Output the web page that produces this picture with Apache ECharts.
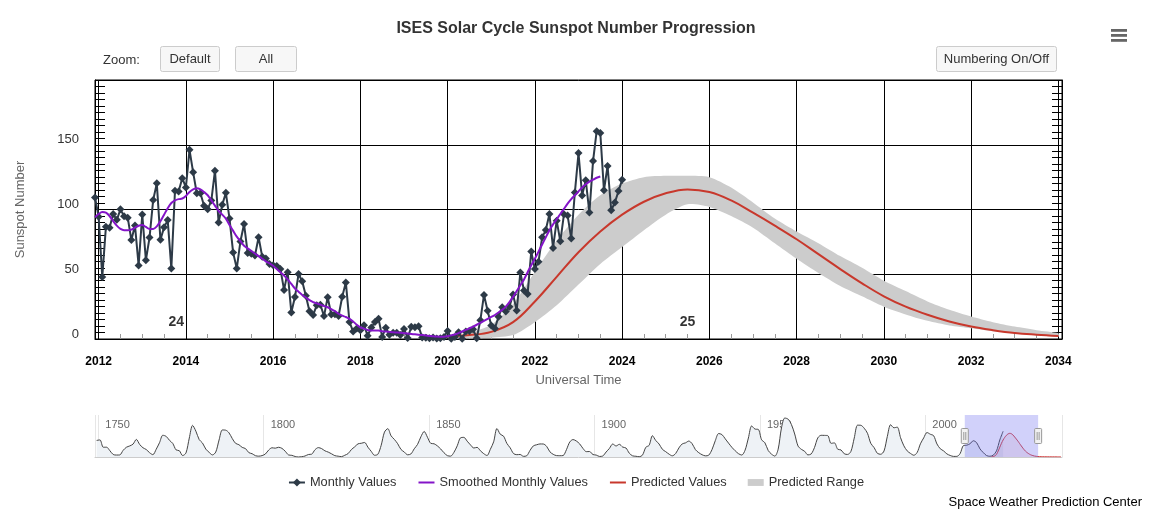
<!DOCTYPE html>
<html><head><meta charset="utf-8">
<script src="https://cdn.jsdelivr.net/npm/echarts@6/dist/echarts.min.js"></script>
<style>html,body{margin:0;padding:0;background:#fff}#c{width:1152px;height:509px}</style>
</head><body><div id="c"></div>
<script>
const FONT = '"Liberation Sans", Arial, Helvetica, sans-serif';

// ---- Monthly sunspot numbers, first value = Dec 2011 ----
const monthlyStartYear = 2011;
const monthlyStartMonth = 12;
const monthlyValues = [
  109.3,
  94.4, 47.8, 86.6, 85.9, 96.5, 92.0, 100.1, 94.8, 93.7, 76.5, 87.6, 56.8,
  96.1, 60.9, 78.3, 107.3, 120.2, 76.7, 86.2, 91.8, 54.5, 114.4, 113.9, 124.2,
  117.0, 146.1, 128.7, 112.5, 112.5, 102.9, 100.2, 106.9, 130.0, 90.0, 103.6, 112.9,
  93.0, 66.7, 54.5, 75.3, 88.8, 66.5, 65.8, 64.4, 78.6, 63.6, 62.2, 58.0,
  57.0, 56.4, 54.1, 37.9, 51.5, 20.5, 32.4, 50.2, 44.6, 33.4, 21.4, 18.5,
  26.1, 26.4, 17.7, 32.3, 18.9, 19.2, 17.8, 32.6, 43.7, 13.2, 5.7, 8.2,
  6.8, 10.7, 2.5, 8.9, 13.1, 15.6, 1.6, 8.7, 3.3, 4.9, 4.9, 3.1,
  7.7, 0.8, 9.4, 9.1, 9.9, 1.2, 0.9, 0.5, 1.1, 0.4, 0.5, 1.5,
  6.2, 0.2, 1.5, 5.2, 0.2, 5.8, 6.1, 7.5, 0.6, 14.4, 34.0, 21.8,
  10.4, 8.2, 17.2, 24.5, 21.2, 25.0, 34.4, 22.0, 51.3, 37.4, 34.8, 67.5,
  54.0, 59.7, 78.5, 84.1, 96.5, 70.3, 91.4, 75.4, 96.3, 95.4, 77.6, 113.1,
  143.6, 110.9, 122.5, 97.6, 137.4, 160.5, 159.1, 114.8, 133.6, 99.4, 105.4, 114.2,
  123.0
];

// ---- Smoothed monthly values, first value = Dec 2011 ----
const smoothedValues = [
  94,
  96.5, 98, 97.5, 95, 91, 87.5, 85, 84, 84, 84.5, 86, 87.5,
  88, 86.5, 85, 85, 87, 91, 96, 101, 105, 107, 108, 108.5,
  110.5, 113.5, 115.5, 116.4, 115.5, 113.5, 111, 107, 103, 99, 96, 93,
  88, 83.5, 79, 75.5, 72, 70, 68, 66, 64, 62, 60, 58.5,
  56.5, 54, 51.5, 49, 46, 42.5, 39, 36.5, 34, 32, 30, 28.5,
  27.5, 26.5, 25.5, 24.5, 23, 21.5, 19.5, 18, 17, 15.5, 13.5, 11,
  9, 8, 7, 6.5, 6.5, 6.5, 6, 5.8, 5.5, 5.2, 5, 4.8,
  4.5, 4.2, 3.9, 3.6, 3.3, 3, 2.7, 2.4, 2.1, 1.9, 1.8, 1.8,
  2.2, 2.8, 3.5, 4.5, 5.8, 7, 8.3, 9.6, 11, 12.5, 14, 15.5,
  17, 18.5, 20.5, 22.5, 25, 28.5, 32.5, 37, 41.5, 46, 51.5, 57,
  62, 67.5, 73, 78.5, 84, 88.5, 92.5, 96.5, 100.5, 104.5, 108, 111,
  114, 117, 119.5, 121.5, 123, 124.5, 125.5
];

// ---- Prediction (half-year samples) ----
const predictedYears = [2020, 2020.5, 2021, 2021.5, 2022, 2022.5, 2023, 2023.5, 2024, 2024.5,
  2025, 2025.5, 2026, 2026.5, 2027, 2027.5, 2028, 2028.5, 2029, 2029.5,
  2030, 2030.5, 2031, 2031.5, 2032, 2032.5, 2033, 2033.5, 2034];
const predictedValues = [2, 3, 5.5, 13, 29, 48, 67, 83, 96, 106,
  112.5, 115.5, 113.5, 107, 97.5, 87.5, 77, 65.5, 54, 43,
  33, 25, 18.7, 13.5, 9.6, 6.8, 4.6, 3.3, 2.3];
const rangeUpper = [2.5, 5, 11, 27, 52, 76, 96, 111, 120, 125,
  126, 126, 125, 117, 105.5, 93, 83, 74, 64, 55,
  45, 37, 29, 22.5, 17.3, 13, 9.6, 6.8, 4.4];
const rangeLower = [0.5, 0.5, 1, 3, 13, 26, 42, 58, 71, 84,
  96, 104, 102, 95, 86, 74, 62, 51, 41, 33,
  25, 19, 14, 10.5, 8.3, 6, 4.4, 3, 1.8];
// tail of the prediction shown only in the navigator
const predictedTailYears = [2035, 2036, 2037, 2038, 2039, 2040, 2041];
const predictedTailValues = [1.6, 1.2, 1.0, 0.8, 0.7, 0.6, 0.5];

// ---- Yearly history for the navigator, first value = 1749 ----
const historyStartYear = 1749;
const yearlyHistory = [
  80.9, 83.4, 47.7, 47.8, 30.7, 12.2, 9.6, 10.2, 32.4, 47.6,
  54.0, 62.9, 85.9, 61.2, 45.1, 36.4, 20.9, 11.4, 37.8, 69.8,
  106.1, 100.8, 81.6, 66.5, 34.8, 30.6, 7.0, 19.8, 92.5, 154.4,
  125.9, 84.8, 68.1, 38.5, 22.8, 10.2, 24.1, 82.9, 132.0, 130.9,
  118.1, 89.9, 66.6, 60.0, 46.9, 41.0, 21.3, 16.0, 6.4, 4.1,
  6.8, 14.5, 34.0, 45.0, 43.1, 47.5, 42.2, 28.1, 10.1, 8.1,
  2.5, 0.0, 1.4, 5.0, 12.2, 13.9, 35.4, 45.8, 41.0, 30.1,
  23.9, 15.6, 6.6, 4.0, 1.8, 8.5, 16.6, 36.3, 49.6, 64.2,
  67.0, 70.9, 47.8, 27.5, 8.5, 13.2, 56.9, 121.5, 138.3, 103.2,
  85.7, 64.6, 36.7, 24.2, 10.7, 15.0, 40.1, 61.5, 98.5, 124.7,
  96.3, 66.6, 64.5, 54.1, 39.0, 20.6, 6.7, 4.3, 22.7, 54.8,
  93.8, 95.8, 77.2, 59.1, 44.0, 47.0, 30.5, 16.3, 7.3, 37.6,
  74.0, 139.0, 111.2, 101.6, 66.2, 44.7, 17.0, 11.3, 12.4, 3.4,
  6.0, 32.3, 54.3, 59.7, 63.7, 63.5, 52.2, 25.4, 13.1, 6.8,
  6.3, 7.1, 35.6, 73.0, 85.1, 78.0, 64.0, 41.8, 26.2, 26.7,
  12.1, 9.5, 2.7, 5.0, 24.4, 42.0, 63.5, 53.8, 62.0, 48.5,
  43.9, 18.6, 5.7, 3.6, 1.4, 9.6, 47.4, 57.1, 103.9, 80.6,
  63.6, 37.6, 26.1, 14.2, 5.8, 16.7, 44.3, 63.9, 69.0, 77.8,
  64.9, 35.7, 21.2, 11.1, 5.7, 8.7, 36.1, 79.7, 114.4, 109.6,
  88.8, 67.8, 47.5, 30.6, 16.3, 9.6, 33.2, 92.6, 151.6, 136.3,
  134.7, 83.9, 69.4, 31.5, 13.9, 4.4, 38.0, 141.7, 190.2, 184.8,
  159.0, 112.3, 53.9, 37.6, 27.9, 10.2, 15.1, 47.0, 93.7, 105.9,
  105.5, 104.5, 66.6, 68.9, 38.0, 34.5, 15.5, 12.6, 27.5, 92.5,
  155.4, 154.7, 140.5, 115.9, 66.6, 45.9, 17.9, 13.4, 29.4, 100.2,
  157.6, 142.6, 145.7, 94.3, 54.6, 29.9, 17.5, 8.6, 21.5, 64.3,
  93.3, 119.6, 111.0, 104.0, 63.7, 40.4, 29.8, 15.2, 7.5, 2.9,
  3.1, 16.5, 55.7, 57.6, 64.7, 79.3, 69.8, 39.8, 21.7, 7.0,
  3.6, 8.8, 29.6, 83.2, 125.5
];

// ---- Cycle numbers ----
const cycleLabelYears = [2013.78, 2025.5];
const cycleLabelValues = [13, 13];
const cycleLabelTexts = ['24', '25'];

// ---- Axis settings ----
const mainXMin = monthlyStartYear + (monthlyStartMonth - 1) / 12;
const mainXMax = 2034 + 1 / 12;
const navXMin = 1749;
const navXMax = 2041.3;
const yMin = 0, yMax = 200, yInterval = 50;

const legendNames = ['Monthly Values', 'Smoothed Monthly Values', 'Predicted Values', 'Predicted Range'];
const titleText = 'ISES Solar Cycle Sunspot Number Progression';

// ---- build series data ----
const monthX = i => monthlyStartYear + (monthlyStartMonth - 1 + i) / 12;
const monthlyData = monthlyValues.map((v, i) => [monthX(i), v]);
const smoothedData = smoothedValues.map((v, i) => [monthX(i), v]);
const predictedData = predictedYears.map((y, i) => [y, predictedValues[i]]);
const navPredData = predictedData.concat(predictedTailYears.map((y, i) => [y, predictedTailValues[i]]));
const rangeData = predictedYears.map((y, i) => [y, rangeLower[i], rangeUpper[i]]);
const historyData = yearlyHistory.map((v, i) => [historyStartYear + i + 0.5, v]);
const cycleData = cycleLabelYears.map((y, i) => [y, cycleLabelValues[i], cycleLabelTexts[i]]);

const intLabel = v => (Math.abs(v - Math.round(v)) < 1e-6 ? String(Math.round(v)) : '');

function button(x, y, w, h, text) {
  return {
    type: 'group', left: x, top: y, children: [
      { type: 'rect', shape: { x: 0, y: 0, width: w, height: h, r: 2 },
        style: { fill: '#f7f7f7', stroke: '#cccccc', lineWidth: 1 } },
      { type: 'text', x: w / 2, y: h / 2,
        style: { text, fill: '#333', font: '13px ' + FONT, textAlign: 'center', textVerticalAlign: 'middle' } }
    ]
  };
}

const lineOnlyLegend = { itemStyle: { opacity: 0, color: 'rgba(0,0,0,0)', borderWidth: 0 } };

const option = {
  animation: false,
  backgroundColor: '#fff',
  textStyle: { fontFamily: FONT },
  title: {
    text: titleText, left: 571, top: 16, textAlign: 'center',
    textStyle: { fontSize: 16, fontWeight: 'bold', color: '#333', fontFamily: FONT }
  },
  legend: {
    data: [
      { name: legendNames[0] },
      Object.assign({ name: legendNames[1] }, lineOnlyLegend),
      Object.assign({ name: legendNames[2] }, lineOnlyLegend),
      { name: legendNames[3], icon: 'path://M0,0 L14,0 L14,6 L0,6 Z' }
    ],
    left: 'center', top: 471, itemWidth: 16, itemHeight: 10, itemGap: 21, symbolKeepAspect: true,
    textStyle: { fontSize: 12.8, color: '#333', fontFamily: FONT }
  },
  graphic: [
    { type: 'text', left: 103, top: 54, style: { text: 'Zoom:', fill: '#333', font: '13px ' + FONT } },
    button(160, 46, 59, 25, 'Default'),
    button(235, 46, 61, 25, 'All'),
    button(936, 46, 120, 25, 'Numbering On/Off'),
    { type: 'group', left: 1111, top: 29, children: [
      { type: 'rect', shape: { x: 0, y: 0, width: 16, height: 2.8 }, style: { fill: '#666' } },
      { type: 'rect', shape: { x: 0, y: 5, width: 16, height: 2.8 }, style: { fill: '#666' } },
      { type: 'rect', shape: { x: 0, y: 10, width: 16, height: 2.8 }, style: { fill: '#666' } }
    ] },
    { type: 'text', right: 10, top: 496,
      style: { text: 'Space Weather Prediction Center', fill: '#000', font: '13px ' + FONT } }
  ],
  grid: [
    { left: 95, right: 90, top: 80, bottom: 170, show: true, borderColor: '#000', borderWidth: 1 },
    { left: 95, right: 90, top: 415, height: 42 }
  ],
  xAxis: [
    {
      type: 'value', gridIndex: 0, min: mainXMin, max: mainXMax, splitNumber: 10,
      minInterval: 2, maxInterval: 2,
      name: 'Universal Time', nameLocation: 'middle', nameGap: 35,
      nameTextStyle: { color: '#666', fontSize: 13, fontFamily: FONT },
      axisLine: { show: true, lineStyle: { color: '#000', width: 1 } },
      axisTick: { show: false, inside: true },
      minorTick: { show: true, splitNumber: 4, length: 5, lineStyle: { color: '#999' } },
      axisLabel: { formatter: intLabel, color: '#000', fontWeight: 'bold', fontSize: 12, margin: 17,
        fontFamily: FONT },
      splitLine: { show: true, lineStyle: { color: '#000', width: 1 } }
    },
    {
      type: 'value', gridIndex: 1, min: navXMin, max: navXMax, splitNumber: 6,
      minInterval: 50, maxInterval: 50, position: 'top',
      axisLine: { show: true, lineStyle: { color: '#cccccc', width: 1 } },
      axisTick: { show: false },
      axisLabel: { inside: true, formatter: intLabel, color: '#666', fontSize: 11, align: 'left',
        margin: 4, padding: [0, 0, 0, 7], fontFamily: FONT },
      splitLine: { show: true, lineStyle: { color: '#e6e6e6', width: 1 } }
    }
  ],
  yAxis: [
    {
      type: 'value', gridIndex: 0, min: yMin, max: yMax, interval: yInterval,
      name: 'Sunspot Number', nameLocation: 'middle', nameGap: 68, nameRotate: 90,
      nameTextStyle: { color: '#666', fontSize: 13, fontFamily: FONT },
      axisLine: { show: true, lineStyle: { color: '#000', width: 1 } },
      axisTick: { show: true, inside: true, length: 10, lineStyle: { color: '#000' } },
      minorTick: { show: true, splitNumber: 10, length: 10, lineStyle: { color: '#000' } },
      axisLabel: { color: '#333', fontSize: 13, margin: 16, verticalAlign: 'bottom', lineHeight: 10,
        showMaxLabel: false, fontFamily: FONT },
      splitLine: { show: true, lineStyle: { color: '#000', width: 1 } }
    },
    {
      type: 'value', gridIndex: 0, min: yMin, max: yMax, interval: yInterval, position: 'right',
      axisLine: { show: true, lineStyle: { color: '#000', width: 1 } },
      axisTick: { show: true, inside: true, length: 10, lineStyle: { color: '#000' } },
      minorTick: { show: true, splitNumber: 10, length: 10, lineStyle: { color: '#000' } },
      axisLabel: { show: false },
      splitLine: { show: false }
    },
    {
      type: 'value', gridIndex: 1, min: 0, max: 205, show: false
    }
  ],
  series: [
    {
      name: 'Predicted Range', type: 'custom', data: rangeData, encode: { x: 0, y: [1, 2] },
      itemStyle: { color: '#cccccc' }, z: 1, silent: true, clip: true,
      renderItem: (params, api) => {
        if (params.dataIndex !== 0) return null;
        const upper = rangeData.map(d => api.coord([d[0], d[2]]));
        const lower = rangeData.map(d => api.coord([d[0], d[1]])).reverse();
        return {
          type: 'polygon',
          shape: { points: upper.concat(lower), smooth: 0.25 },
          style: { fill: '#cccccc', stroke: 'none' }
        };
      }
    },
    {
      name: 'Predicted Values', type: 'line', data: predictedData, smooth: 0.4, symbol: 'none',
      itemStyle: { color: '#c8382c' }, lineStyle: { color: '#c8382c', width: 2 }, z: 2
    },
    {
      name: 'Monthly Values', type: 'line', data: monthlyData, symbol: 'diamond', symbolSize: 8,
      itemStyle: { color: '#2d3a47' }, lineStyle: { color: '#2d3a47', width: 2 }, z: 3
    },
    {
      name: 'Smoothed Monthly Values', type: 'line', data: smoothedData, smooth: 0.3, symbol: 'none',
      itemStyle: { color: '#8414c8' }, lineStyle: { color: '#8414c8', width: 2 }, z: 4
    },
    {
      name: 'cycles', type: 'scatter', data: cycleData, symbolSize: 1, itemStyle: { color: 'rgba(0,0,0,0)' },
      label: { show: true, position: 'inside', formatter: p => p.value[2], fontWeight: 'bold', fontSize: 14,
        color: '#000', fontFamily: FONT }, z: 5, silent: true
    },
    {
      name: 'navHistory', type: 'line', xAxisIndex: 1, yAxisIndex: 2, data: historyData, smooth: 0.3,
      symbol: 'none', lineStyle: { color: '#444', width: 1 }, areaStyle: { color: '#eef2f6', opacity: 1 }, silent: true
    },
    {
      name: 'navPred', type: 'line', xAxisIndex: 1, yAxisIndex: 2, data: navPredData, smooth: 0.4,
      symbol: 'none', lineStyle: { color: '#d03b3b', width: 1 }, areaStyle: { color: 'rgba(208,59,59,0.12)' }, silent: true
    },
    {
      name: 'navMask', type: 'custom', xAxisIndex: 1, yAxisIndex: 2, data: [[mainXMin, mainXMax]],
      encode: { x: [0, 1] }, silent: true, z: 6,
      renderItem: (params, api) => {
        const cs = params.coordSys;
        const x0 = api.coord([api.value(0), 0])[0];
        const x1 = api.coord([api.value(1), 0])[0];
        const cy = cs.y + cs.height / 2;
        const handle = x => ({
          type: 'group', children: [
            { type: 'rect', shape: { x: x - 3.5, y: cy - 7.5, width: 7, height: 15, r: 1 },
              style: { fill: '#f2f2f2', stroke: '#999', lineWidth: 1 } },
            { type: 'line', shape: { x1: x - 1, y1: cy - 4, x2: x - 1, y2: cy + 4 }, style: { stroke: '#999', lineWidth: 1 } },
            { type: 'line', shape: { x1: x + 1, y1: cy - 4, x2: x + 1, y2: cy + 4 }, style: { stroke: '#999', lineWidth: 1 } }
          ]
        });
        return { type: 'group', children: [
          { type: 'rect', shape: { x: x0, y: cs.y, width: x1 - x0, height: cs.height },
            style: { fill: 'rgba(102,102,240,0.3)' } },
          handle(x0), handle(x1)
        ] };
      }
    }
  ]
};

const chart = echarts.init(document.getElementById('c'), null, { renderer: 'canvas' });
chart.setOption(option);
</script>
</body></html>
